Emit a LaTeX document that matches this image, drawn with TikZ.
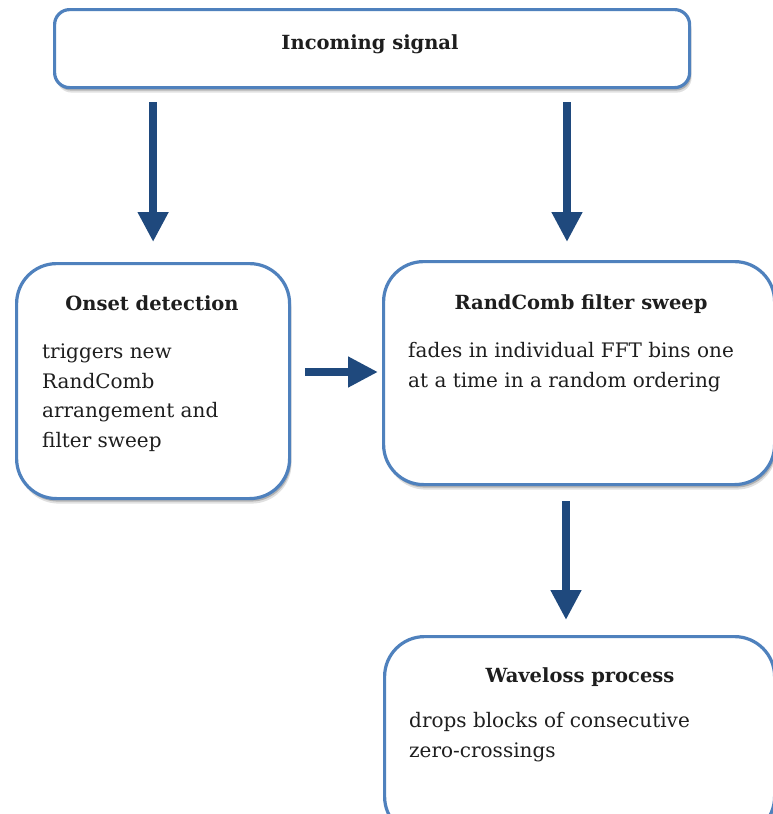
\documentclass[tikz,border=0pt]{standalone}
\usepackage{fontspec}
\setmainfont{DejaVu Serif}
\usetikzlibrary{arrows.meta,shadows}
\definecolor{boxblue}{RGB}{79,129,189}
\definecolor{arrblue}{RGB}{31,73,125}
\definecolor{txt}{RGB}{30,30,30}
\begin{document}
\begin{tikzpicture}[x=1pt,y=-1pt,
  box/.style={draw=boxblue, line width=3.2pt, fill=white, rounded corners=40pt,
    inner sep=0pt, anchor=north west,
    drop shadow={shadow xshift=2pt, shadow yshift=-5pt, opacity=0.12, fill=black},
    drop shadow={shadow xshift=1.5pt, shadow yshift=-3pt, opacity=0.2, fill=black}},
  ttl/.style={font=\fontsize{19.5}{22}\bfseries\selectfont, text=txt, anchor=base, inner sep=0pt},
  body/.style={font=\fontsize{20}{29.5}\selectfont, text=txt, align=left, anchor=base west, inner sep=0pt},
  arr/.style={draw=arrblue, line width=8pt, -{Triangle[width=29pt,length=30pt]}}]
\useasboundingbox (0,0) rectangle (772,814);
\fill[white] (0,0) rectangle (772,814);
% boxes
\node[box, rounded corners=15pt, minimum width=635pt, minimum height=78pt] (in) at (53,8) {};
\node[box, minimum width=273pt, minimum height=235pt] (on) at (15,262) {};
\node[box, minimum width=391pt, minimum height=223pt] (rc) at (382,260) {};
\node[box, minimum width=390pt, minimum height=200pt] (wl) at (383,635) {};
% texts
\node[ttl] (tin) at (370,49) {Incoming signal};
\node[ttl] (ton) at (152,310) {Onset detection};
\node[body] (bon) at (42,447) {triggers new\\RandComb\\arrangement and\\filter sweep};
\node[ttl] (trc) at (581,309) {RandComb filter sweep};
\node[body] (brc) at (408,387) {fades in individual FFT bins one\\at a time in a random ordering};
\node[ttl] (twl) at (580,682) {Waveloss process};
\node[body] (bwl) at (409,757) {drops blocks of consecutive\\zero-crossings};
% connectors
\coordinate (col2) at (567,0);
\coordinate (col4) at (566,0);
\coordinate (row3) at (0,372);
\draw[arr, shorten <=13pt, shorten >=20pt] (in.south -| on.north) -- (on.north);
\draw[arr, shorten <=13pt, shorten >=18pt] (in.south -| col2) -- (rc.north -| col2);
\draw[arr, shorten <=14pt, shorten >=4pt] (on.east |- row3) -- (rc.west |- row3);
\draw[arr, shorten <=15pt, shorten >=15pt] (rc.south -| col4) -- (wl.north -| col4);
\end{tikzpicture}
\end{document}
